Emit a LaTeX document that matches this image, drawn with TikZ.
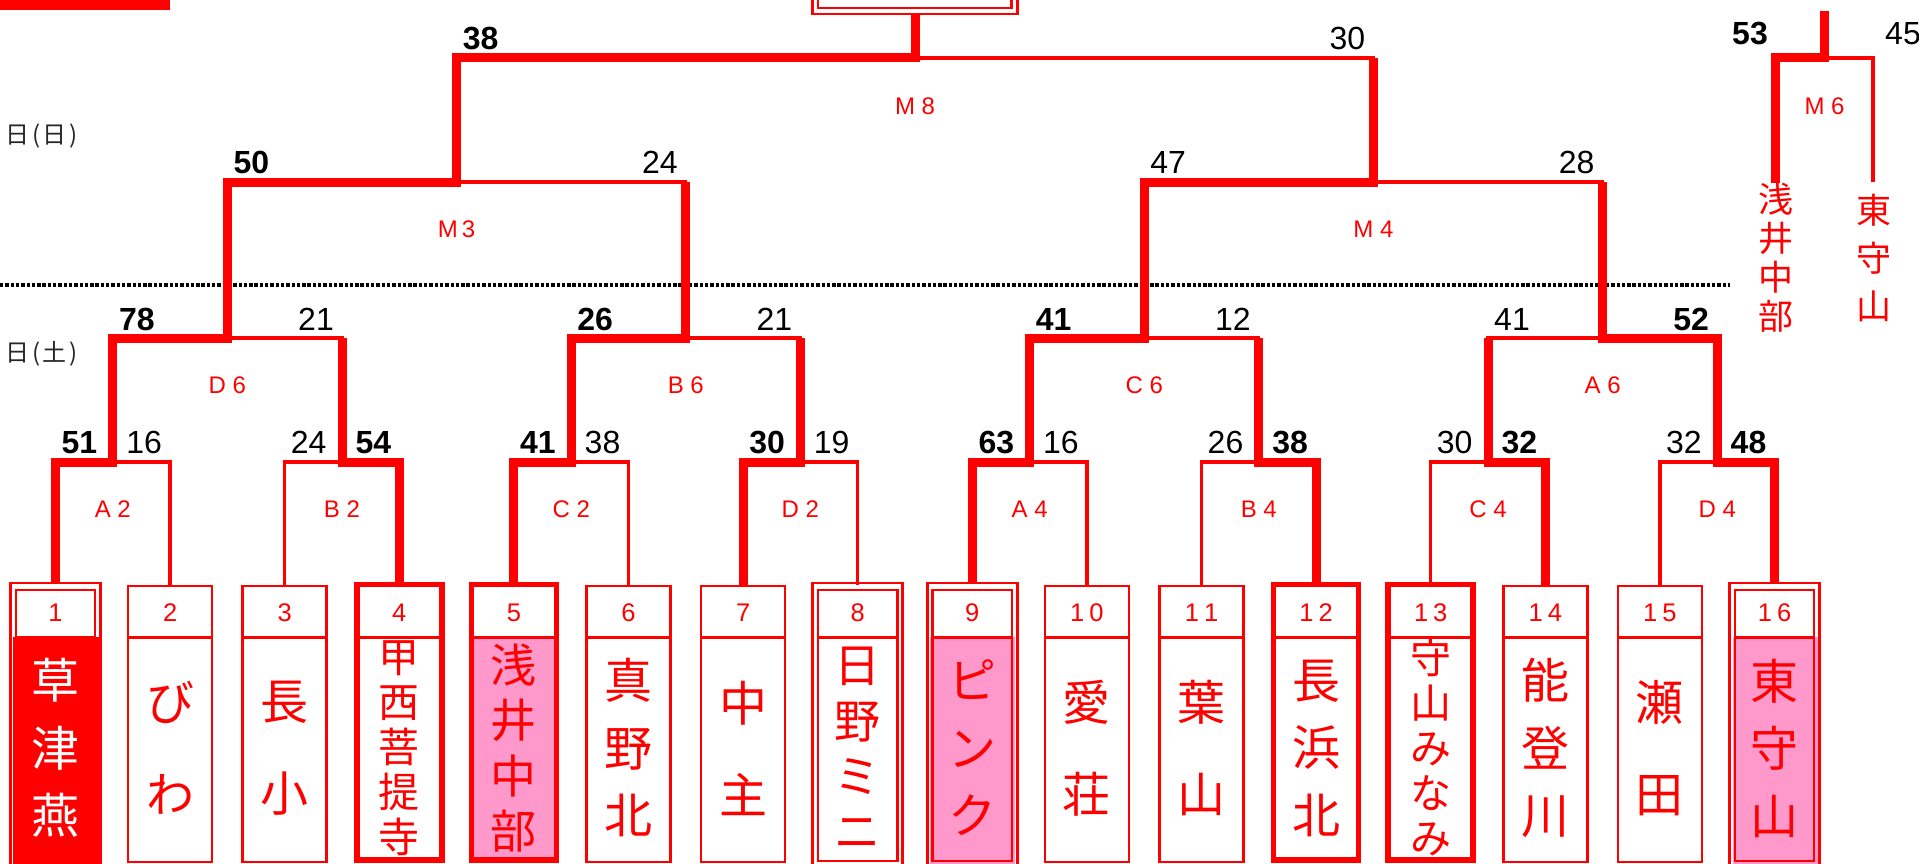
\documentclass[tikz,border=0pt]{standalone}
\usepackage{fontspec}
\setmainfont{Liberation Sans}
\newfontfamily\cjk{Noto Sans CJK JP}
\usetikzlibrary{positioning}
\definecolor{hired}{RGB}{255,0,0}
\definecolor{hipink}{RGB}{255,153,204}

\begin{document}
\begin{tikzpicture}[x=1pt,y=-1pt,
  win/.style={hired,line width=9pt,line cap=rect},
  stem/.style={hired,line width=9pt,line cap=butt},
  lose/.style={hired,line width=3.3pt,line cap=rect},
  score/.style={inner sep=0pt,font=\fontsize{32}{32}\selectfont},
  wscore/.style={inner sep=0pt,font=\fontsize{32}{32}\selectfont\bfseries},
  match/.style={inner sep=0pt,hired,font=\fontsize{24}{24}\selectfont},
  num/.style={inner sep=0pt,hired,font=\fontsize{25.5}{26}\selectfont},
  plainbox/.style={hired,line width=2.6pt},
  thickbox/.style={hired,line width=5.5pt},
  dblbox/.style={hired,line width=2.5pt},
  team/.style={inner sep=0pt,align=center,hired},
  two/.style={team,font=\cjk\fontsize{48}{92}\selectfont},
  three/.style={team,font=\cjk\fontsize{48}{67.5}\selectfont},
  four/.style={team,font=\cjk\fontsize{46}{55.3}\selectfont},
  five/.style={team,font=\cjk\fontsize{41}{45}\selectfont},
  day/.style={inner sep=0pt,anchor=west,black!85,font=\cjk\fontsize{24}{24}\selectfont}]
  \useasboundingbox (0,0) rectangle (1919,864);
  \clip (0,0) rectangle (1919,864);

  \fill[hired] (0,0) rectangle (170,10);
  \draw[dblbox] (812.3,-10) rectangle (1017.3,14.2);
  \draw[dblbox] (818,-10) rectangle (1011.3,7.8);
  \draw[black,line width=3.3pt,dash pattern=on 3.4pt off 1.9pt] (0,285) -- (1730,285);
  \node[day] (sun) at (5,136) {日\kern3pt(\kern2pt日\kern3pt)};
  \node[day] (sat) at (5,354) {日\kern3pt(\kern2pt土\kern3pt)};

  % boxes
  \fill[hired] (13,637) rectangle (99,864);
  \fill[hipink] (473.9,637) rectangle (553.9,860);
  \fill[hipink] (930.3,637) rectangle (1015.3,864);
  \fill[hipink] (1732.5,637) rectangle (1817.5,864);
  \foreach \c in {170.1,284.7,628.5,743.1,1086.9,1201.5,1545.3,1659.9}
    \draw[plainbox] (\c-42,586) rectangle (\c+42,862) (\c-42,637.5) -- (\c+42,637.5);
  \foreach \c in {399.3,513.9,1316.1,1430.7}{
    \draw[thickbox] (\c-42.5,584.5) rectangle (\c+42.5,860);
    \draw[plainbox] (\c-42.5,637.5) -- (\c+42.5,637.5);
  }
  \foreach \c in {55.5,857.7,972.3,1774.5}
    \draw[dblbox] (\c-45,583) rectangle (\c+45,900) (\c-39.7,590) rectangle (\c+39.7,861)
      (\c-39.7,637.5) -- (\c+39.7,637.5);
  \foreach \i/\c/\n in {1/55.5/1,2/170.1/2,3/284.7/3,4/399.3/4,5/513.9/5,6/628.5/6,7/743.1/7,8/857.7/8,
      9/972.3/9,10/1086.9/1\kern5pt 0,11/1201.5/1\kern5pt 1,12/1316.1/1\kern5pt 2,
      13/1430.7/1\kern5pt 3,14/1545.3/1\kern5pt 4,15/1659.9/1\kern5pt 5,16/1774.5/1\kern5pt 6}
    \node[num] (k\i) at (\c,612.5) {\n};

  \node[three,white] (n1) at (55.5,748) {草\\津\\燕};
  \node[two] (n2) at (170.1,748) {び\\わ};
  \node[two] (n3) at (284.7,748) {長\\小};
  \node[five] (n4) at (399.3,748) {甲\\西\\菩\\提\\寺};
  \node[four] (n5) at (513.9,748) {浅\\井\\中\\部};
  \node[three] (n6) at (628.5,748) {真\\野\\北};
  \node[two] (n7) at (743.1,748) {中\\主};
  \node[four] (n8) at (857.7,748) {日\\野\\ミ\\ニ};
  \node[three] (n9) at (972.3,748) {ピ\\ン\\ク};
  \node[two] (n10) at (1086.9,748) {愛\\荘};
  \node[two] (n11) at (1201.5,748) {葉\\山};
  \node[three] (n12) at (1316.1,748) {長\\浜\\北};
  \node[five] (n13) at (1430.7,748) {守\\山\\み\\な\\み};
  \node[three] (n14) at (1545.3,748) {能\\登\\川};
  \node[two] (n15) at (1659.9,748) {瀬\\田};
  \node[three] (n16) at (1774.5,748) {東\\守\\山};

  \coordinate (t1) at (55.5,578);
  \coordinate (t2) at (170.1,585);
  \coordinate (t3) at (284.7,585);
  \coordinate (t4) at (399.3,578);
  \coordinate (t5) at (513.9,578);
  \coordinate (t6) at (628.5,585);
  \coordinate (t7) at (743.1,580.5);
  \coordinate (t8) at (857.7,583);
  \coordinate (t9) at (972.3,578);
  \coordinate (t10) at (1086.9,585);
  \coordinate (t11) at (1201.5,585);
  \coordinate (t12) at (1316.1,578);
  \coordinate (t13) at (1430.7,583);
  \coordinate (t14) at (1545.3,580.5);
  \coordinate (t15) at (1659.9,585);
  \coordinate (t16) at (1774.5,578);
  \coordinate (A2) at (112.8,462);
  \coordinate (B2) at (342,462);
  \coordinate (C2) at (571.2,462);
  \coordinate (D2) at (800.4,462);
  \coordinate (A4) at (1029.6,462);
  \coordinate (B4) at (1258.8,462);
  \coordinate (C4) at (1488,462);
  \coordinate (D4) at (1717.2,462);
  \coordinate (D6) at (227.4,338);
  \coordinate (B6) at (685.8,338);
  \coordinate (C6) at (1144.2,338);
  \coordinate (A6) at (1602.6,338);
  \coordinate (M3) at (456.6,182);
  \coordinate (M4) at (1373.4,182);
  \coordinate (M8) at (915,58);
  \coordinate (cup) at (915,15);
  \coordinate (M6) at (1824.5,58);
  \coordinate (m6a) at (1775,178);
  \coordinate (m6b) at (1873,180.5);
  \coordinate (m6top) at (1824.5,11);

  \draw[lose] (t2) |- (A2);  \draw[win] (t1) |- (A2);
  \draw[lose] (t3) |- (B2);  \draw[win] (t4) |- (B2);
  \draw[lose] (t6) |- (C2);  \draw[win] (t5) |- (C2);
  \draw[lose] (t8) |- (D2);  \draw[win] (t7) |- (D2);
  \draw[lose] (t10) |- (A4); \draw[win] (t9) |- (A4);
  \draw[lose] (t11) |- (B4); \draw[win] (t12) |- (B4);
  \draw[lose] (t13) |- (C4); \draw[win] (t14) |- (C4);
  \draw[lose] (t15) |- (D4); \draw[win] (t16) |- (D4);
  \draw[lose] (B2 |- D6) -- (D6); \draw[stem] (B2) -- (B2 |- D6); \draw[win] (A2) |- (D6);
  \draw[lose] (D2 |- B6) -- (B6); \draw[stem] (D2) -- (D2 |- B6); \draw[win] (C2) |- (B6);
  \draw[lose] (B4 |- C6) -- (C6); \draw[stem] (B4) -- (B4 |- C6); \draw[win] (A4) |- (C6);
  \draw[lose] (C4 |- A6) -- (A6); \draw[stem] (C4) -- (C4 |- A6); \draw[win] (D4) |- (A6);
  \draw[lose] (B6 |- M3) -- (M3); \draw[stem] (B6) -- (B6 |- M3); \draw[win] (D6) |- (M3);
  \draw[lose] (A6 |- M4) -- (M4); \draw[stem] (A6) -- (A6 |- M4); \draw[win] (C6) |- (M4);
  \draw[lose] (M4 |- M8) -- (M8); \draw[stem] (M4) -- (M4 |- M8); \draw[win] (M3) |- (M8);
  \draw[stem] (M8) -- (cup);
  \draw[lose] (m6b) |- (M6); \draw[win] (m6a) |- (M6); \draw[stem] (M6) -- (m6top);

  \node[wscore,anchor=base west] (s1) at (61.5,453) {51};
  \node[score,anchor=base east] (s2) at (162.1,453) {16};
  \node[score,anchor=base west] (s3) at (290.7,453) {24};
  \node[wscore,anchor=base east] (s4) at (391.3,453) {54};
  \node[wscore,anchor=base west] (s5) at (519.9,453) {41};
  \node[score,anchor=base east] (s6) at (620.5,453) {38};
  \node[wscore,anchor=base west] (s7) at (749.1,453) {30};
  \node[score,anchor=base east] (s8) at (849.7,453) {19};
  \node[wscore,anchor=base west] (s9) at (978.3,453) {63};
  \node[score,anchor=base east] (s10) at (1078.9,453) {16};
  \node[score,anchor=base west] (s11) at (1207.5,453) {26};
  \node[wscore,anchor=base east] (s12) at (1308.1,453) {38};
  \node[score,anchor=base west] (s13) at (1436.7,453) {30};
  \node[wscore,anchor=base east] (s14) at (1537.3,453) {32};
  \node[score,anchor=base west] (s15) at (1665.9,453) {32};
  \node[wscore,anchor=base east] (s16) at (1766.5,453) {48};
  \node[wscore,anchor=base west] (sd6a) at (118.8,330) {78};
  \node[score,anchor=base east] (sd6b) at (334,330) {21};
  \node[wscore,anchor=base west] (sb6a) at (577.2,330) {26};
  \node[score,anchor=base east] (sb6b) at (792.4,330) {21};
  \node[wscore,anchor=base west] (sc6a) at (1035.6,330) {41};
  \node[score,anchor=base east] (sc6b) at (1250.8,330) {12};
  \node[score,anchor=base west] (sa6a) at (1494,330) {41};
  \node[wscore,anchor=base east] (sa6b) at (1709.2,330) {52};
  \node[wscore,anchor=base west] (sm3a) at (233.4,173) {50};
  \node[score,anchor=base east] (sm3b) at (677.8,173) {24};
  \node[score,anchor=base west] (sm4a) at (1150.2,173) {47};
  \node[score,anchor=base east] (sm4b) at (1594.6,173) {28};
  \node[wscore,anchor=base west] (sm8a) at (462.6,50) {38};
  \node[score,anchor=base east] (sm8b) at (1365.4,50) {30};
  \node[wscore,anchor=base east] (sm6a) at (1768,45) {53};
  \node[score,anchor=base west] (sm6b) at (1885,45) {45};

  \node[match] (lA2) at (112.8,509) {A 2};
  \node[match] (lB2) at (342,509) {B 2};
  \node[match] (lC2) at (571.2,509) {C 2};
  \node[match] (lD2) at (800.4,509) {D 2};
  \node[match] (lA4) at (1029.6,509) {A 4};
  \node[match] (lB4) at (1258.8,509) {B 4};
  \node[match] (lC4) at (1488,509) {C 4};
  \node[match] (lD4) at (1717.2,509) {D 4};
  \node[match] (lD6) at (227.4,385) {D 6};
  \node[match] (lB6) at (685.8,385) {B 6};
  \node[match] (lC6) at (1144.2,385) {C 6};
  \node[match] (lA6) at (1602.6,385) {A 6};
  \node[match] (lM3) at (456.6,229) {M\kern4pt3};
  \node[match] (lM4) at (1373.4,229) {M 4};
  \node[match] (lM8) at (915,106) {M 8};
  \node[match] (lM6) at (1824.5,106) {M 6};

  \node[team,font=\cjk\fontsize{35}{39}\selectfont] (asai) at (1776,257.5) {浅\\井\\中\\部};
  \node[team,font=\cjk\fontsize{35}{48}\selectfont] (higashi) at (1874,258.5) {東\\守\\山};
\end{tikzpicture}
\end{document}
